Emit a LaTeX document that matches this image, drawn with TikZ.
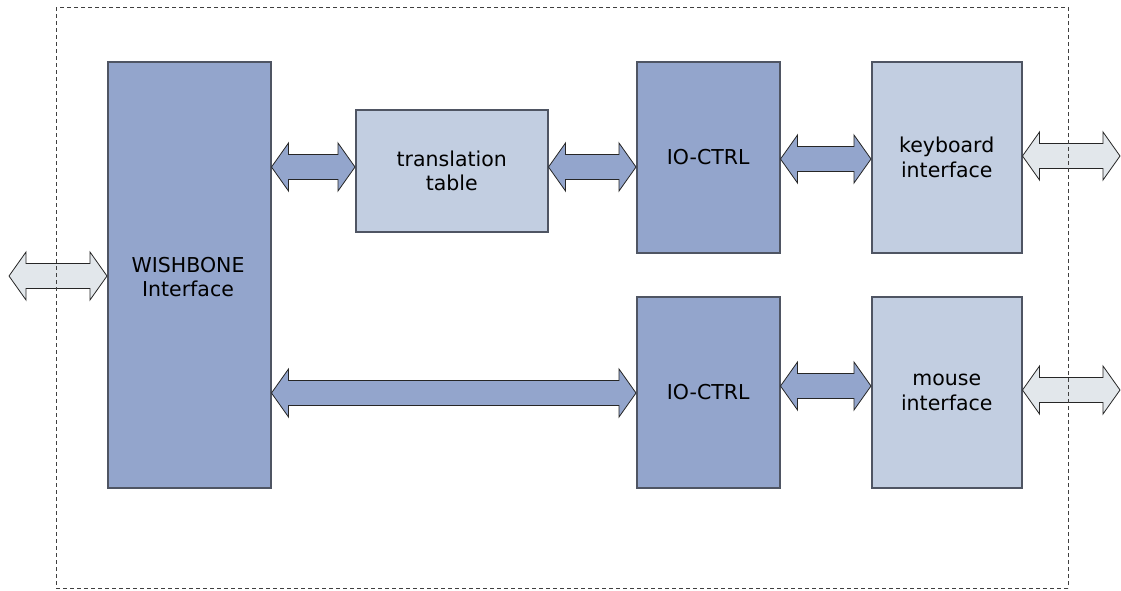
\documentclass[tikz,border=0pt]{standalone}
\usepackage{fontspec}
\setmainfont{DejaVu Sans}
\usetikzlibrary{calc}

\definecolor{blockdark}{HTML}{93A5CC}
\definecolor{blocklight}{HTML}{C2CEE1}
\definecolor{portfill}{HTML}{E2E7EB}
\definecolor{edge}{HTML}{4F5563}

\tikzset{
  labelfont/.style={font=\fontsize{20.5}{24.5}\selectfont},
  block/.style={draw=edge, line width=1.5pt, anchor=north west, inner sep=0pt,
    align=center, labelfont},
  darkblock/.style={block, fill=blockdark},
  lightblock/.style={block, fill=blocklight},
  busarrow/.style={draw=black!85, line width=0.8pt, fill=blockdark, line join=miter},
  portarrow/.style={busarrow, fill=portfill},
  frame/.style={draw=black!75, line width=0.6pt, dash pattern=on 4pt off 3pt}
}

% two-headed block arrow between two points of equal height
\newcommand\busarrow[3]{%
  \path[#1] let \p1=#2, \p2=#3 in
    (\x1,\y1) -- (\x1+17pt,\y1+24pt) -- (\x1+17pt,\y1+12.5pt)
    -- (\x2-17pt,\y1+12.5pt) -- (\x2-17pt,\y1+24pt) -- (\x2,\y1)
    -- (\x2-17pt,\y1-24pt) -- (\x2-17pt,\y1-12.5pt)
    -- (\x1+17pt,\y1-12.5pt) -- (\x1+17pt,\y1-24pt) -- cycle;}

\begin{document}
\begin{tikzpicture}[x=1pt,y=-1pt]
\useasboundingbox (0,0) rectangle (1121,590);

% core boundary
\draw[frame] (56,7) rectangle (1068,588);

% blocks
\node[darkblock, minimum width=163pt, minimum height=426pt] (wb) at (107,61) {};
\node at (188,277) [labelfont, align=center] (wbtext) {WISHBONE\\Interface};

\node[lightblock, minimum width=192pt, minimum height=122pt] (tt) at (355,109) {translation\\table};
\node[darkblock, minimum width=143pt, minimum height=191pt] (io1) at (636,61) {IO-CTRL};
\node[lightblock, minimum width=150pt, minimum height=191pt] (kb) at (871,61) {keyboard\\interface};
\node[darkblock, minimum width=143pt, minimum height=191pt] (io2) at (636,296) {IO-CTRL};
\node[lightblock, minimum width=150pt, minimum height=191pt] (ms) at (871,296) {mouse\\interface};

% free ends of the external ports
\coordinate (hostport) at (9,276);
\coordinate (kbport) at (1120,156);
\coordinate (msport) at (1120,390);

% buses
\busarrow{portarrow}{(hostport)}{(wb.west |- hostport)}
\busarrow{busarrow}{(wb.east |- 0,167)}{(tt.west |- 0,167)}
\busarrow{busarrow}{(tt.east |- 0,167)}{(io1.west |- 0,167)}
\busarrow{busarrow}{(io1.east |- 0,159)}{(kb.west |- 0,159)}
\busarrow{portarrow}{(kb.east |- kbport)}{(kbport)}
\busarrow{busarrow}{(wb.east |- 0,393)}{(io2.west |- 0,393)}
\busarrow{busarrow}{(io2.east |- 0,386)}{(ms.west |- 0,386)}
\busarrow{portarrow}{(ms.east |- msport)}{(msport)}

% dashed boundary passes over the port arrows
\draw[frame] (56,7) -- (56,588);
\draw[frame] (1068,7) -- (1068,588);
\end{tikzpicture}
\end{document}
